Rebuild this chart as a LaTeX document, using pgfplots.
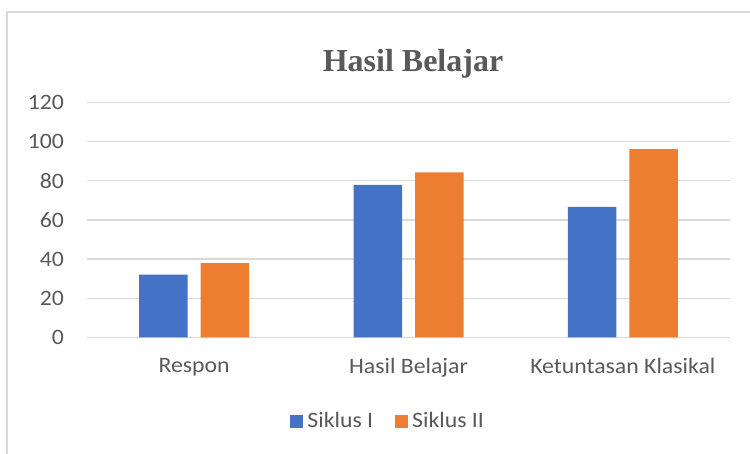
\documentclass[border=0pt]{standalone}
\usepackage{pgfplots}
\pgfplotsset{compat=1.18}
\usepackage{fontspec}
\setmainfont{Carlito}[FakeStretch=1.08]
\newfontfamily\titlefont{Liberation Serif}
\definecolor{cblue}{HTML}{4472C4}
\definecolor{corange}{HTML}{ED7D31}
\definecolor{cgrid}{HTML}{D9D9D9}
\definecolor{ctext}{HTML}{595959}
\begin{document}
\begin{tikzpicture}
\path[use as bounding box] (0,0) rectangle (375pt,227pt);
\draw[cgrid,line width=0.6pt] (3.5pt,0) -- (3.5pt,221pt) -- (375pt,221pt);
\node[text=ctext,font=\titlefont\bfseries\fontsize{16}{19}\selectfont] at (206.5pt,195pt) {Hasil Belajar};
\begin{axis}[
  at={(43.5pt,58.35pt)}, anchor=south west,
  scale only axis, width=321.5pt, height=117.3pt,
  xmin=-0.5, xmax=2.5, ymin=0, ymax=120,
  ytick={0,20,40,60,80,100,120},
  xtick={0,1,2},
  xticklabels={Respon,Hasil Belajar,Ketuntasan Klasikal},
  ybar=6.5pt, bar width=24.25pt,
  axis line style={draw=none},
  major tick length=0pt,
  ymajorgrids, grid style={cgrid,line width=0.6pt},
  tick label style={text=ctext,font=\fontsize{11}{13}\selectfont},
  /pgf/number format/assume math mode=true,
  yticklabel style={xshift=-8pt},
  xticklabel style={yshift=-7pt},
  legend columns=2,
  legend style={draw=none, at={(0.47,-0.357)}, anchor=center,
    font=\fontsize{11}{13}\selectfont, text=ctext,
    /tikz/every even column/.append style={column sep=9pt}},
  legend image code/.code={\fill[#1] (-2pt,-3.25pt) rectangle (4.5pt,3.25pt);},
]
\addplot[fill=cblue,draw=none] coordinates {(0,32) (1,78) (2,66.7)};
\addplot[fill=corange,draw=none] coordinates {(0,38) (1,84.3) (2,96.2)};
\legend{Siklus I,Siklus II}
\end{axis}
\end{tikzpicture}
\end{document}
